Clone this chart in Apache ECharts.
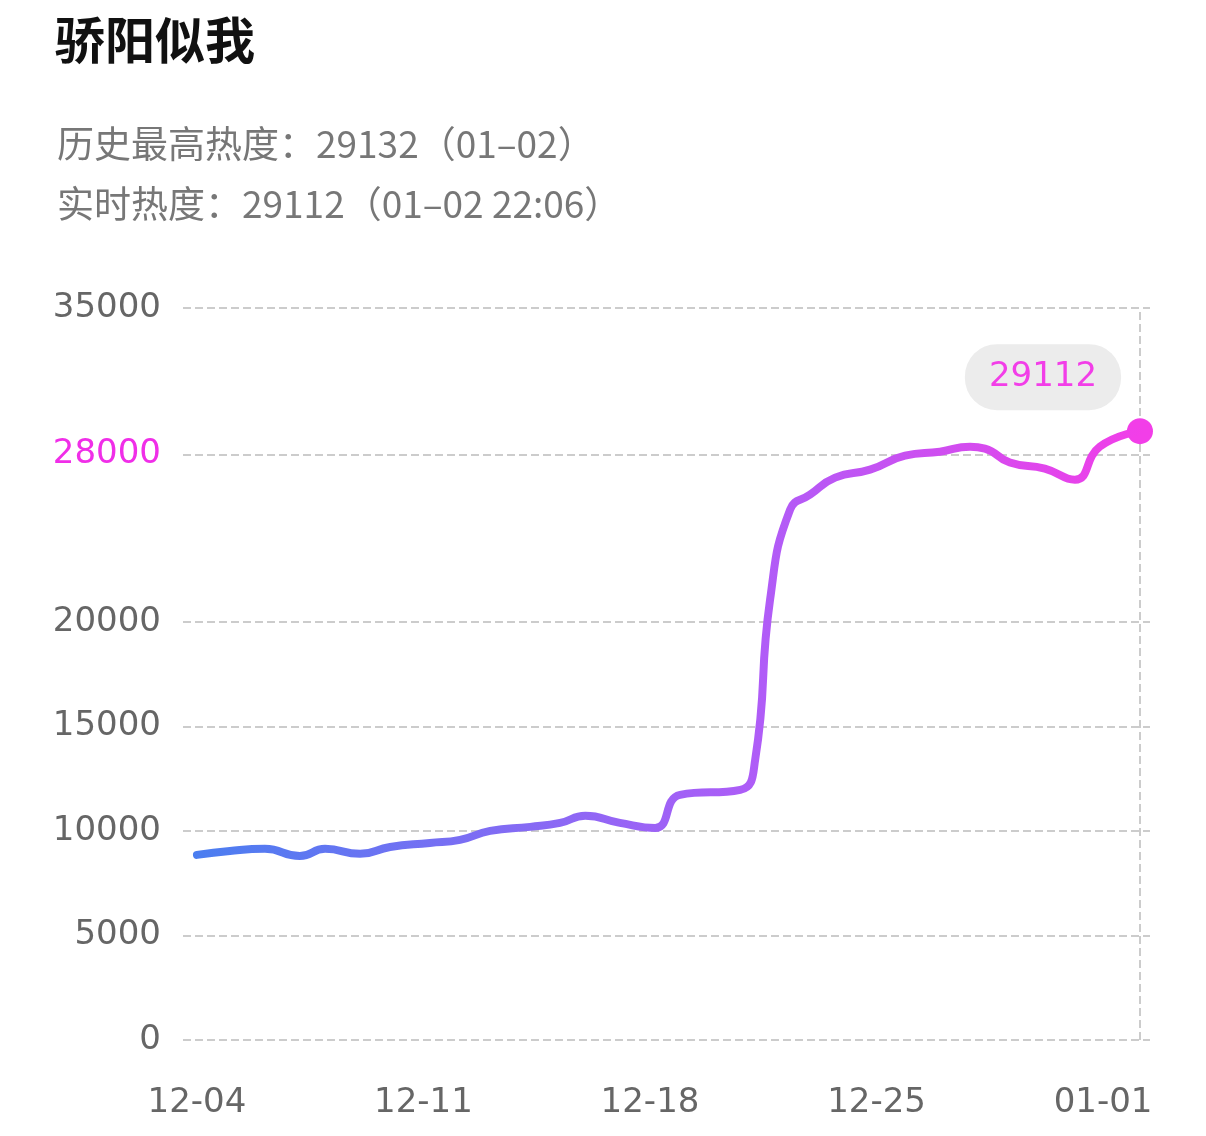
<!DOCTYPE html>
<html lang="zh">
<head>
  <meta charset="UTF-8">
  <title>骄阳似我</title>
  <style>
    html, body { margin: 0; padding: 0; background: #fff; }
    #chart { width: 1206px; height: 1136px; }
  </style>
</head>
<body>
  <div id="chart"></div>
  <script src="https://cdn.jsdelivr.net/npm/echarts@6/dist/echarts.min.js"></script>
  <script>
    // days since 12-04 and heat values
    var days = [0, 1.02, 2.1, 3.18, 3.96, 5.04, 5.97, 7.2, 8.13, 9.06, 10.3, 11.22, 12.0, 13.07, 14.16, 14.93, 16.79, 17.25, 17.71, 18.33, 18.95, 19.72, 20.8, 21.88, 22.96, 23.89, 24.35, 25.12, 26.2, 27.13, 27.9, 29.14];
    var heat = [8850, 9040, 9140, 8800, 9140, 8900, 9230, 9420, 9570, 10000, 10190, 10380, 10720, 10380, 10140, 11720, 11960, 13400, 21050, 25360, 26080, 26890, 27270, 27940, 28130, 28370, 28280, 27610, 27320, 26790, 28370, 29112];
    var xTicks = [0, 7, 14, 21, 28];
    var xTickLabels = ['12-04', '12-11', '12-18', '12-25', '01-01'];
    var yTicks = [0, 5000, 10000, 15000, 20000, 28000, 35000];

    var chart = echarts.init(document.getElementById('chart'));
    var pts = days.map(function (d, i) { return [d, heat[i]]; });
    var last = pts[pts.length - 1];

    chart.setOption({
      animation: false,
      title: [
        { text: '骄阳似我', left: 50, top: 10, textStyle: { fontSize: 50, fontWeight: 'bold', color: '#111', fontFamily: 'Noto Sans CJK SC' } },
        { text: '历史最高热度：29132（01–02）', left: 52, top: 120, textStyle: { fontSize: 37, fontWeight: 'normal', color: '#777', fontFamily: 'Noto Sans CJK SC' } },
        { text: '实时热度：29112（01–02 22:06）', left: 52, top: 180, textStyle: { fontSize: 37, fontWeight: 'normal', color: '#777', fontFamily: 'Noto Sans CJK SC' } }
      ],
      grid: { left: 183, right: 56, top: 308, bottom: 96 },
      xAxis: {
        type: 'value', min: -0.43, max: 29.45,
        axisLine: { show: false }, axisTick: { show: false }, splitLine: { show: false },
        axisLabel: {
          customValues: xTicks, margin: 46, fontSize: 34, color: '#666', fontFamily: 'DejaVu Sans',
          formatter: function (v) { return xTickLabels[xTicks.indexOf(v)] || ''; }
        }
      },
      yAxis: {
        type: 'value', min: 0, max: 35000,
        axisLine: { show: false }, axisTick: { show: false }, splitLine: { show: false },
        axisLabel: {
          customValues: yTicks, margin: 22, fontSize: 34, color: '#666', fontFamily: 'DejaVu Sans',
          formatter: function (v) { return v === 28000 ? '{hi|' + v + '}' : String(v); },
          rich: { hi: { color: '#f02ee8', fontSize: 34, fontWeight: 500, fontFamily: 'DejaVu Sans' } }
        }
      },
      series: [{
        type: 'line', data: pts, smooth: 0.5, showSymbol: false, z: 5,
        lineStyle: {
          width: 8, cap: 'round',
          color: new echarts.graphic.LinearGradient(0, 0, 1, 0, [
            { offset: 0, color: '#4a7ef0' },
            { offset: 0.6, color: '#b05cf7' },
            { offset: 1, color: '#f23ee8' }
          ])
        },
        markLine: {
          silent: true, symbol: 'none', label: { show: false },
          lineStyle: { type: 'dashed', color: '#ccc', width: 2 },
          data: yTicks.map(function (v) { return { yAxis: v }; }).concat([{ xAxis: last[0] }])
        },
        markPoint: {
          silent: true,
          data: [
            { coord: last, symbol: 'circle', symbolSize: 26, itemStyle: { color: '#f23ee8' }, label: { show: false } },
            {
              coord: last, symbol: 'rect', symbolSize: 0,
              label: {
                show: true, formatter: '29112', position: 'inside', offset: [-97, -54],
                backgroundColor: '#ececec', borderRadius: 32, padding: [16, 24],
                color: '#f23ee8', fontSize: 34, fontFamily: 'DejaVu Sans'
              }
            }
          ]
        }
      }]
    });
  </script>
</body>
</html>
